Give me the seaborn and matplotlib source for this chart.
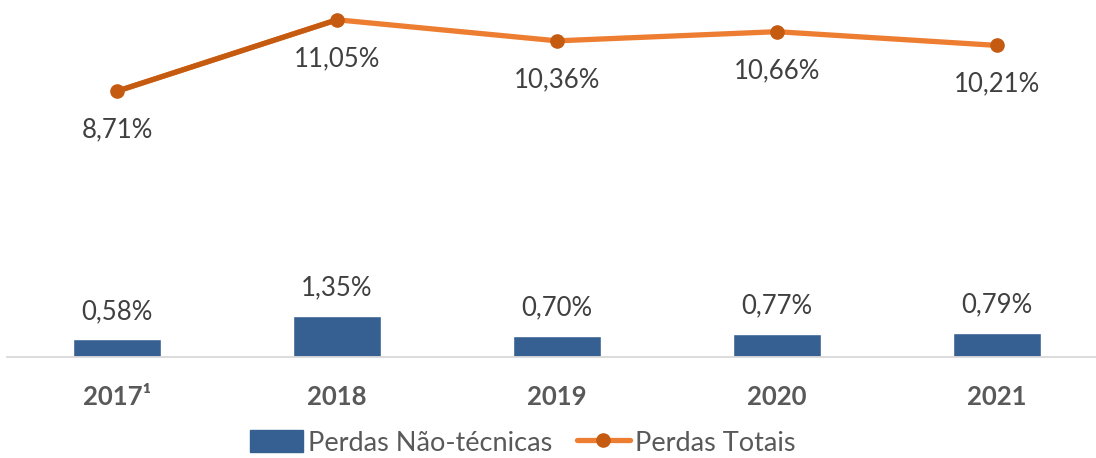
import matplotlib
matplotlib.use("Agg")
import matplotlib.pyplot as plt
import numpy as np
import pandas as pd
import seaborn as sns
from matplotlib.lines import Line2D
from matplotlib.patches import Patch

# Data
years = ["2017¹", "2018", "2019", "2020", "2021"]
perdas_nao_tecnicas = [0.58, 1.35, 0.70, 0.77, 0.79]
perdas_totais = [8.71, 11.05, 10.36, 10.66, 10.21]

BLUE = "#376092"
ORANGE = "#ED7D31"
DARK_ORANGE = "#C55A11"
TEXT = "#404040"
TICK = "#595959"

sns.set_theme(style="white")
plt.rcParams["font.family"] = ["Lato", "DejaVu Sans"]

df = pd.DataFrame(
    {"Ano": years, "NaoTecnicas": perdas_nao_tecnicas, "Totais": perdas_totais}
)
x = np.arange(len(years))

fig = plt.figure(figsize=(10.96, 4.58), dpi=100)
ax = fig.add_axes([7 / 1096, 101 / 458, 1100 / 1096, 354 / 458])

# Bars
sns.barplot(data=df, x="Ano", y="NaoTecnicas", color=BLUE, width=0.4,
            saturation=1, ax=ax, zorder=2)

# Line (first segment drawn darker, as in the reference)
sns.lineplot(x=x, y=df["Totais"], color=ORANGE, linewidth=3.8, ax=ax,
             zorder=3, solid_capstyle="round")
ax.plot(x[:2], df["Totais"][:2], color=DARK_ORANGE, linewidth=3.8,
        zorder=4, solid_capstyle="round")
ax.plot(x, df["Totais"], linestyle="none", marker="o", markersize=9.5,
        color=DARK_ORANGE, zorder=5)

# Value labels
for i, v in enumerate(perdas_nao_tecnicas):
    ax.annotate(f"{v:.2f}%".replace(".", ","), (i, v), xytext=(0, 20),
                textcoords="offset points", ha="center", va="center",
                fontsize=18.5, color=TEXT)
for i, v in enumerate(perdas_totais):
    ax.annotate(f"{v:.2f}%".replace(".", ","), (i, v), xytext=(0, -28),
                textcoords="offset points", ha="center", va="center",
                fontsize=18.5, color=TEXT)

ax.set_xlim(-0.5, 4.5)
ax.set_ylim(0, 11.6)
ax.set_yticks([])
ax.set_xlabel("")
ax.set_ylabel("")
for side in ["top", "left", "right"]:
    ax.spines[side].set_visible(False)
ax.spines["bottom"].set_color("#D9D9D9")
ax.spines["bottom"].set_linewidth(1.3)
ax.tick_params(axis="x", length=0, pad=20)
ax.set_xticks(x)
ax.set_xticklabels(years, fontsize=18.5, fontweight="bold", color=TICK)

handles = [
    Patch(facecolor=BLUE, edgecolor=BLUE),
    Line2D([0], [0], color=ORANGE, linewidth=3.8, marker="o",
           markersize=9.5, markerfacecolor=DARK_ORANGE,
           markeredgecolor=DARK_ORANGE),
]
fig.legend(handles, ["Perdas Não-técnicas", "Perdas Totais"],
           loc="center", bbox_to_anchor=(523 / 1096, 1 - 443 / 458),
           ncol=2, frameon=False, fontsize=19.5, labelcolor=TICK,
           handlelength=1.95, handleheight=0.85, handletextpad=0.2,
           columnspacing=0.9)

fig.savefig("out.png", dpi=100)
